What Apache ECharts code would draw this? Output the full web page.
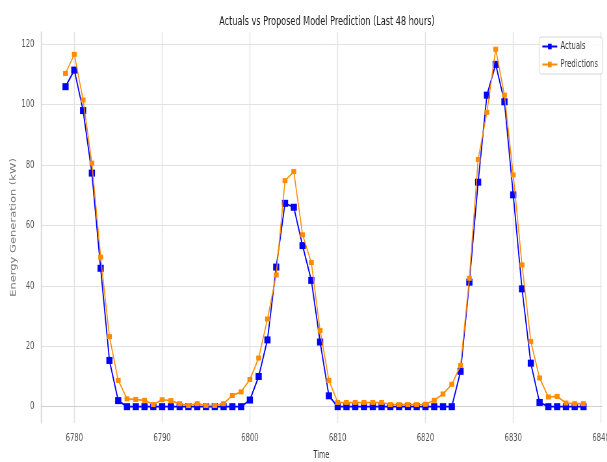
<!DOCTYPE html>
<html>
<head>
<meta charset="utf-8" />
<title>Actuals vs Predictions</title>
<script src="https://cdn.jsdelivr.net/npm/echarts@6/dist/echarts.min.js"></script>
<style>
  html, body { margin: 0; background: #fff; overflow: hidden; }
  /* the source figure is squeezed sideways, so draw wide and compress */
  #chart { width: 934px; height: 462px; transform: scaleX(0.65); transform-origin: 0 0; }
</style>
</head>
<body>
<div id="chart"></div>
<script type="text/javascript">
// hours 6779 .. 6838
var timeStart = 6779;
var actuals = [
  105.9, 111.4, 98.0, 77.3, 45.8, 15.3, 2.0,
  0, 0, 0, 0, 0, 0, 0, 0, 0, 0, 0, 0, 0, 0,
  2.2, 10.0, 22.1, 46.2, 67.3, 66.0, 53.3, 41.8, 21.4, 3.6,
  0, 0, 0, 0, 0, 0, 0, 0, 0, 0, 0, 0, 0, 0,
  11.7, 41.2, 74.3, 103.1, 113.3, 100.9, 70.1, 39.0, 14.4, 1.4,
  0, 0, 0, 0, 0
];
var predictions = [
  110.3, 116.6, 101.5, 80.6, 49.5, 23.2, 8.7,
  2.6, 2.4, 2.1, 0.7, 2.3, 2.0, 1.0, 0.4, 1.0, 0.4, 0.4, 1.0, 3.7, 4.9,
  9.0, 16.1, 29.0, 43.6, 74.8, 77.8, 56.9, 47.7, 25.2, 8.7,
  1.4, 1.4, 1.4, 1.4, 1.4, 1.4, 0.7, 0.7, 0.7, 0.7, 0.8, 2.1, 4.2, 7.4,
  13.6, 42.5, 81.8, 97.4, 118.3, 103.1, 76.7, 46.9, 21.6, 9.5,
  3.2, 3.4, 1.2, 1.0, 1.0
];
var xTicks = [6780, 6790, 6800, 6810, 6820, 6830, 6840];
var yTicks = [0, 20, 40, 60, 80, 100, 120];

function pairs(values) {
  return values.map(function (v, i) { return [timeStart + i, v]; });
}

var font = '"DejaVu Sans", sans-serif';
var chart = echarts.init(document.getElementById('chart'));

var option = {
  animation: false,
  backgroundColor: '#fff',
  title: {
    text: 'Actuals vs Proposed Model Prediction (Last 48 hours)',
    left: 498,
    textAlign: 'center',
    top: 10,
    textStyle: { fontFamily: font, fontSize: 12.5, fontWeight: 'normal', color: '#222' }
  },
  legend: {
    right: 7,
    top: 37,
    orient: 'vertical',
    itemWidth: 23,
    itemHeight: 7,
    itemGap: 7,
    padding: [4, 7, 4, 4],
    borderColor: '#d6d6d6',
    borderWidth: 1,
    borderRadius: 3,
    backgroundColor: 'rgba(255,255,255,0.8)',
    textStyle: { fontFamily: font, fontSize: 10.5, color: '#333' },
    data: ['Actuals', 'Predictions']
  },
  grid: { left: 63, right: 8, top: 32, bottom: 39, outerBoundsMode: 'none', containLabel: false },
  xAxis: {
    type: 'value',
    min: 6776.2,
    max: 6840.1,
    name: 'Time',
    nameLocation: 'middle',
    nameGap: 27,
    nameTextStyle: { fontFamily: font, fontSize: 10, color: '#333' },
    axisLine: { show: true, lineStyle: { color: '#d0d0d0' } },
    axisTick: { show: false, customValues: xTicks },
    axisLabel: {
      customValues: xTicks,
      formatter: function (v) { return String(v); },
      fontFamily: font, fontSize: 10.5, color: '#555', margin: 10
    },
    splitLine: { show: true, lineStyle: { color: '#e2e2e2', width: 1.4 } }
  },
  yAxis: {
    type: 'value',
    min: -5.4,
    max: 124,
    name: 'Energy Generation (kW)',
    nameLocation: 'middle',
    nameGap: 36,
    nameMoveOverlap: false,
    nameTextStyle: { fontFamily: font, fontSize: 11.5, color: '#777' },
    axisLine: { show: true, lineStyle: { color: '#d0d0d0', width: 1.4 } },
    axisTick: { show: false, customValues: yTicks },
    axisLabel: {
      customValues: yTicks,
      fontFamily: font, fontSize: 10.5, color: '#555', margin: 10
    },
    splitLine: { show: true, lineStyle: { color: '#e2e2e2', width: 1 } }
  },
  series: [
    {
      name: 'Actuals',
      type: 'line',
      data: pairs(actuals),
      color: '#0000ff',
      symbol: 'rect',
      symbolSize: [9.5, 7],
      showAllSymbol: true,
      lineStyle: { width: 1.8, color: '#0000ff' },
      itemStyle: { color: '#0000ff' },
      z: 2
    },
    {
      name: 'Predictions',
      type: 'line',
      data: pairs(predictions),
      color: '#ff8c00',
      symbol: 'rect',
      symbolSize: [7.5, 5],
      showAllSymbol: true,
      lineStyle: { width: 1.6, color: '#ff8c00' },
      itemStyle: { color: '#ff8c00' },
      z: 3
    }
  ]
};

chart.setOption(option);
</script>
</body>
</html>
